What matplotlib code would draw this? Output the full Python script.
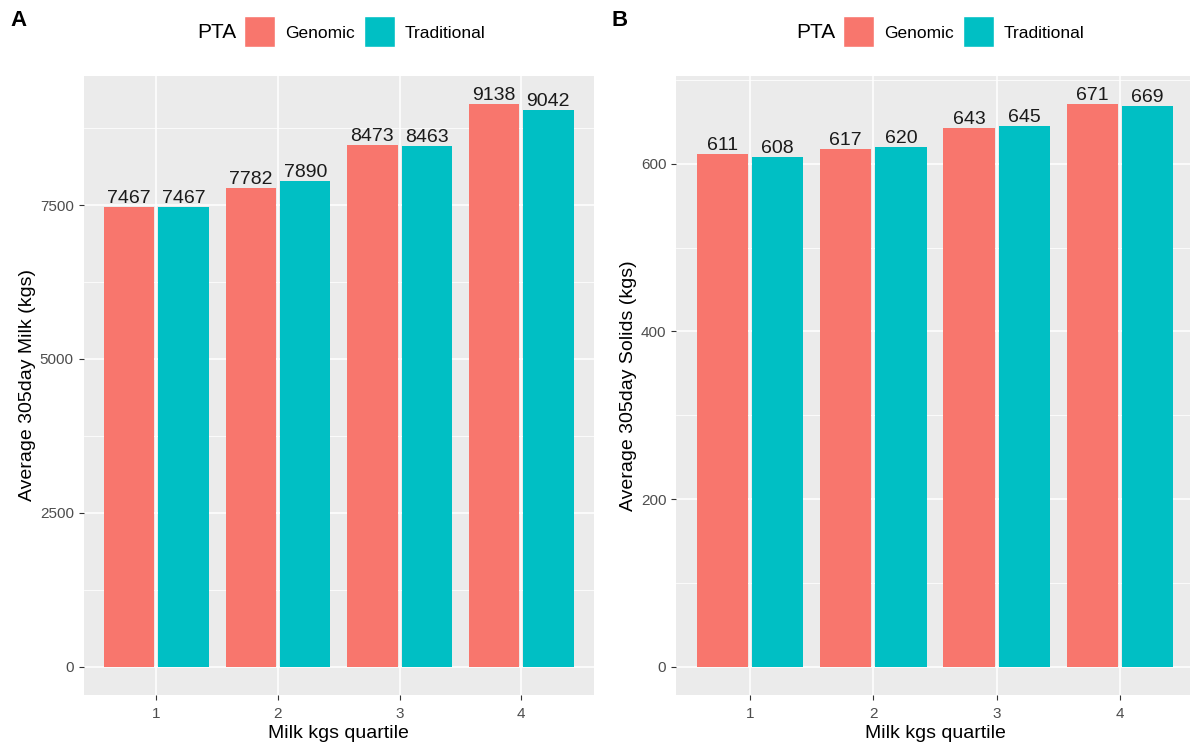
import matplotlib.pyplot as plt
from matplotlib.patches import Rectangle
import numpy as np

quartiles = ["1", "2", "3", "4"]
milk_genomic = [7467, 7782, 8473, 9138]
milk_traditional = [7467, 7890, 8463, 9042]
solids_genomic = [611, 617, 643, 671]
solids_traditional = [608, 620, 645, 669]

col_gen = "#F8766D"
col_trad = "#00BFC4"

plt.rcParams['font.family'] = ['Liberation Sans', 'DejaVu Sans']

W, H = 1190, 751
fig = plt.figure(figsize=(W / 100, H / 100), dpi=100)


def panel(rect, gen, trad, ylabel, major, minor, letter, letter_x, leg_x):
    ax = fig.add_axes(rect)
    ax.set_facecolor("#EBEBEB")
    x = np.arange(1, len(quartiles) + 1)
    w = 0.415
    off = 0.224
    ax.bar(x - off, gen, width=w, color=col_gen, zorder=3)
    ax.bar(x + off, trad, width=w, color=col_trad, zorder=3)
    for xi, v in zip(x - off, gen):
        ax.text(xi, v, str(v), ha="center", va="bottom", fontsize=14,
                color="#1a1a1a", zorder=4)
    for xi, v in zip(x + off, trad):
        ax.text(xi, v, str(v), ha="center", va="bottom", fontsize=14,
                color="#1a1a1a", zorder=4)
    top = max(max(gen), max(trad))
    ax.set_ylim(-0.05 * top, top * 1.05)
    ax.set_xlim(0.4, 4.6)
    ax.set_xticks(x)
    ax.set_xticklabels(quartiles)
    ax.set_yticks(major)
    ax.set_yticks(minor, minor=True)
    ax.grid(True, which="major", color="white", linewidth=1.1, zorder=0)
    ax.grid(True, which="minor", axis="y", color="white", linewidth=0.55, zorder=0)
    ax.set_axisbelow(True)
    for s in ax.spines.values():
        s.set_visible(False)
    ax.tick_params(which="major", length=3.5, width=0.8, color="#333333",
                   labelsize=11, labelcolor="#4d4d4d")
    ax.tick_params(axis="x", pad=5)
    ax.tick_params(axis="y", pad=3.5)
    ax.tick_params(which="minor", length=0)
    ax.set_xlabel("Milk kgs quartile", fontsize=14, color="black", labelpad=3)
    ax.set_ylabel(ylabel, fontsize=14, color="black", labelpad=3)

    fig.text(letter_x / W, 1 - 20 / H, letter, fontsize=16, fontweight="bold",
             ha="left", va="center")
    # legend on top
    ly = 1 - 31 / H
    fig.text(leg_x / W, 1 - 33 / H, "PTA", fontsize=15, ha="left", va="center")
    kw, kh = 31 / W, 31 / H
    kx1 = (leg_x + 47) / W
    fig.patches.append(Rectangle((kx1, ly - kh / 2), kw, kh, facecolor=col_gen,
                                 edgecolor="white", transform=fig.transFigure))
    fig.text((leg_x + 88) / W, 1 - 33 / H, "Genomic", fontsize=12.5,
             ha="left", va="center")
    kx2 = (leg_x + 167) / W
    fig.patches.append(Rectangle((kx2, ly - kh / 2), kw, kh, facecolor=col_trad,
                                 edgecolor="white", transform=fig.transFigure))
    fig.text((leg_x + 208) / W, 1 - 33 / H, "Traditional", fontsize=12.5,
             ha="left", va="center")
    return ax


panel([83.5 / W, 56 / H, 510.5 / W, 619 / H], milk_genomic, milk_traditional,
      "Average 305day Milk (kgs)", [0, 2500, 5000, 7500], [1250, 3750, 6250, 8750],
      "A", 10, 197)
panel([676 / W, 56 / H, 518 / W, 619 / H], solids_genomic, solids_traditional,
      "Average 305day Solids (kgs)", [0, 200, 400, 600], [100, 300, 500, 700],
      "B", 612, 796)

fig.savefig("out.png", dpi=100)
